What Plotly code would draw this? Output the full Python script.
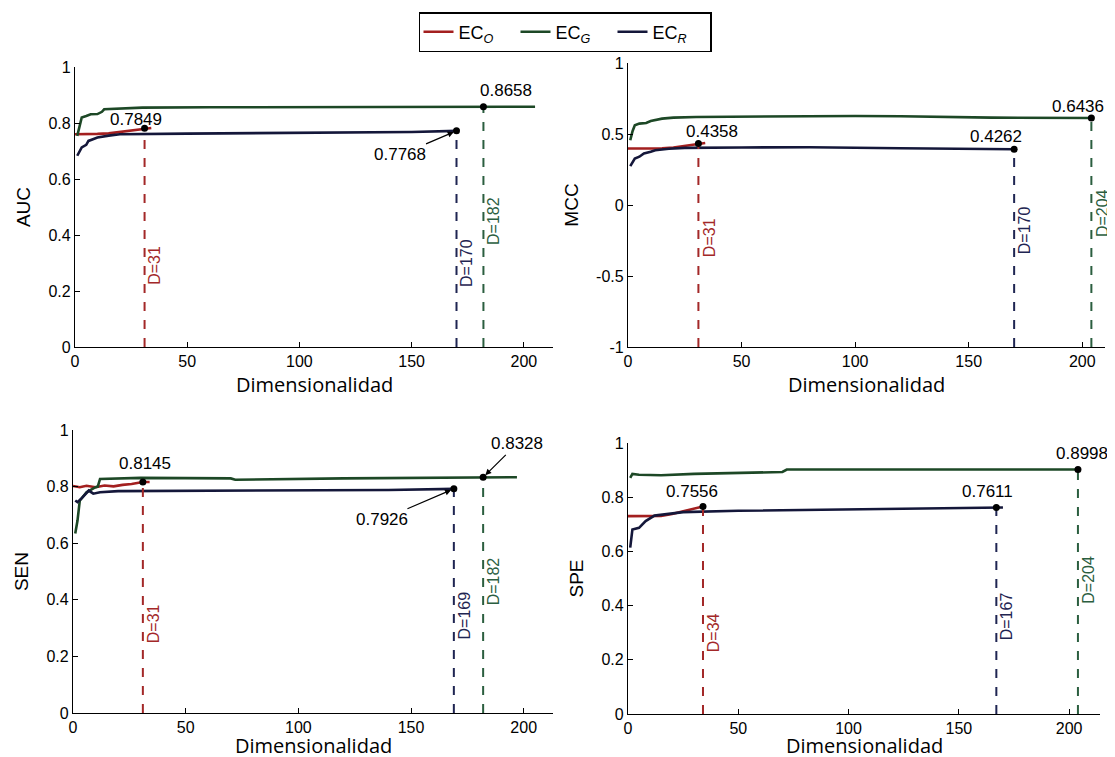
import plotly.graph_objects as go

# ---------------- data ----------------
# AUC
auc_o_x = [0, 5, 10, 15, 20, 25, 31, 34]
auc_o_y = [0.760, 0.760, 0.761, 0.763, 0.768, 0.775, 0.781, 0.782]
auc_g_x = [1, 2, 3, 5, 7, 10, 12, 13, 20, 30, 60, 100, 150, 182, 205]
auc_g_y = [0.754, 0.790, 0.820, 0.825, 0.831, 0.832, 0.840, 0.849, 0.852, 0.855, 0.856, 0.857, 0.858, 0.858, 0.858]
auc_r_x = [1, 2, 3, 5, 6, 8, 10, 15, 20, 50, 100, 150, 170]
auc_r_y = [0.683, 0.700, 0.713, 0.722, 0.736, 0.742, 0.748, 0.755, 0.760, 0.762, 0.764, 0.768, 0.772]

# MCC
mcc_o_x = [0, 5, 10, 15, 20, 25, 31, 34]
mcc_o_y = [0.398, 0.398, 0.398, 0.399, 0.405, 0.418, 0.433, 0.437]
mcc_g_x = [1, 2, 3, 5, 8, 10, 15, 20, 30, 50, 70, 75, 100, 120, 160, 204]
mcc_g_y = [0.456, 0.520, 0.561, 0.573, 0.578, 0.592, 0.608, 0.615, 0.620, 0.622, 0.624, 0.629, 0.627, 0.625, 0.615, 0.613]
mcc_r_x = [1, 2, 3, 5, 7, 10, 12, 18, 25, 50, 80, 120, 170]
mcc_r_y = [0.274, 0.300, 0.327, 0.340, 0.363, 0.375, 0.386, 0.396, 0.402, 0.405, 0.407, 0.400, 0.393]

# SEN
sen_o_x = [0, 3, 6, 10, 14, 18, 22, 26, 31, 34]
sen_o_y = [0.802, 0.798, 0.803, 0.798, 0.804, 0.801, 0.806, 0.809, 0.816, 0.816]
sen_g_x = [1, 2, 3, 6, 10, 11, 12, 30, 70, 72, 120, 182, 197]
sen_g_y = [0.634, 0.680, 0.750, 0.780, 0.798, 0.800, 0.827, 0.831, 0.829, 0.824, 0.829, 0.833, 0.833]
sen_r_x = [1, 2, 4, 5, 7, 9, 12, 20, 50, 100, 140, 169]
sen_r_y = [0.751, 0.745, 0.760, 0.769, 0.786, 0.775, 0.780, 0.784, 0.785, 0.786, 0.788, 0.792]

# SPE
spe_o_x = [0, 5, 10, 15, 20, 25, 30, 34]
spe_o_y = [0.730, 0.730, 0.730, 0.731, 0.738, 0.748, 0.757, 0.766]
spe_g_x = [1, 2, 5, 15, 30, 50, 70, 72, 120, 204]
spe_g_y = [0.871, 0.886, 0.883, 0.881, 0.886, 0.890, 0.893, 0.902, 0.902, 0.902]
spe_r_x = [1, 2, 5, 8, 12, 25, 50, 100, 140, 167, 170]
spe_r_y = [0.614, 0.681, 0.687, 0.712, 0.732, 0.745, 0.750, 0.755, 0.759, 0.762, 0.762]

# Optimal dimensionalities and reported values  [EC_O, EC_G, EC_R]
auc_best_d = [31, 182, 170]
auc_best_v = ["0.7849", "0.8658", "0.7768"]
mcc_best_d = [31, 204, 170]
mcc_best_v = ["0.4358", "0.6436", "0.4262"]
sen_best_d = [31, 182, 169]
sen_best_v = ["0.8145", "0.8328", "0.7926"]
spe_best_d = [34, 204, 167]
spe_best_v = ["0.7556", "0.8998", "0.7611"]

series_names = ["EC<sub><i>O</i></sub>", "EC<sub><i>G</i></sub>", "EC<sub><i>R</i></sub>"]
x_ticks = [0, 50, 100, 150, 200]
x_title = "Dimensionalidad"

# ---------------- styling ----------------
line_colors = ["#a31f1f", "#1d4826", "#14173a"]
dash_colors = ["#a32828", "#2b5e3f", "#1f2552"]
OFF = 8                      # page body margin of the html page
W, H = 1115 - OFF, 757
FONT = "Liberation Sans, Arial, sans-serif"

panels = [
    dict(name="AUC", data=[(auc_o_x, auc_o_y), (auc_g_x, auc_g_y), (auc_r_x, auc_r_y)],
         best_d=auc_best_d, best_v=auc_best_v, yr=[0, 1], yt=[0, 0.2, 0.4, 0.6, 0.8, 1],
         ytl=["0", "0.2", "0.4", "0.6", "0.8", "1"], xr=[0, 213],
         box=(75, 553, 67, 347), xtitle_y=384,
         labels=[(27, 0.814, None), (192, 0.917, None), (145, 0.686, "arrow")],
         dlab=[0.29, 0.45, 0.30]),
    dict(name="MCC", data=[(mcc_o_x, mcc_o_y), (mcc_g_x, mcc_g_y), (mcc_r_x, mcc_r_y)],
         best_d=mcc_best_d, best_v=mcc_best_v, yr=[-1, 1], yt=[-1, -0.5, 0, 0.5, 1],
         ytl=["-1", "-0.5", "0", "0.5", "1"], xr=[0, 210],
         box=(628, 1105, 63, 347), xtitle_y=384,
         labels=[(37, 0.52, None), (198, 0.695, None), (162, 0.484, None)],
         dlab=[-0.227, -0.058, -0.18]),
    dict(name="SEN", data=[(sen_o_x, sen_o_y), (sen_g_x, sen_g_y), (sen_r_x, sen_r_y)],
         best_d=sen_best_d, best_v=sen_best_v, yr=[0, 1], yt=[0, 0.2, 0.4, 0.6, 0.8, 1],
         ytl=["0", "0.2", "0.4", "0.6", "0.8", "1"], xr=[0, 213],
         box=(73, 553, 430, 713), xtitle_y=745,
         labels=[(32, 0.883, None), (197, 0.951, "arrow"), (137, 0.683, "arrow")],
         dlab=[0.315, 0.464, 0.346]),
    dict(name="SPE", data=[(spe_o_x, spe_o_y), (spe_g_x, spe_g_y), (spe_r_x, spe_r_y)],
         best_d=spe_best_d, best_v=spe_best_v, yr=[0, 1], yt=[0, 0.2, 0.4, 0.6, 0.8, 1],
         ytl=["0", "0.2", "0.4", "0.6", "0.8", "1"], xr=[0, 214],
         box=(628, 1100, 443, 714), xtitle_y=745,
         labels=[(29, 0.822, None), (206, 0.96, None), (163, 0.822, None)],
         dlab=[0.30, 0.497, 0.36]),
]

fig = go.Figure()
annotations = []
tick_font = dict(family=FONT, size=16, color="black")

for i, p in enumerate(panels):
    n = "" if i == 0 else str(i + 1)
    xa, ya = "x" + n, "y" + n
    l, r, t, b = p["box"]
    fig.layout["xaxis" + n] = dict(
        domain=[(l - OFF) / W, (r - OFF) / W], range=p["xr"], anchor=ya, tickvals=x_ticks,
        ticks="inside", ticklen=5, tickcolor="black", showline=True, linecolor="black",
        linewidth=1.2, showgrid=False, zeroline=False, tickfont=tick_font, automargin=False,
    )
    fig.layout["yaxis" + n] = dict(
        domain=[1 - (b - OFF) / H, 1 - (t - OFF) / H], range=p["yr"], anchor=xa,
        tickvals=p["yt"], ticktext=p["ytl"], ticks="inside", ticklen=5, tickcolor="black",
        showline=True, linecolor="black", linewidth=1.2, showgrid=False, zeroline=False,
        tickfont=tick_font, automargin=False,
        title=dict(text=p["name"], standoff=12, font=dict(family=FONT, size=19, color="black")),
    )
    annotations.append(dict(
        x=((l + r) / 2 - OFF) / W, y=1 - (p["xtitle_y"] - OFF) / H, xref="paper", yref="paper",
        text=x_title, showarrow=False, xanchor="center", yanchor="middle",
        font=dict(family="Open Sans, sans-serif", size=20, color="black"),
    ))
    ybot = p["yr"][0]
    for k, (sx, sy) in enumerate(p["data"]):
        fig.add_trace(go.Scatter(
            x=sx, y=sy, mode="lines", xaxis=xa, yaxis=ya,
            line=dict(color=line_colors[k], width=2.6),
            name=series_names[k], showlegend=(i == 0), legendgroup=str(k),
        ))
    for k, (sx, sy) in enumerate(p["data"]):
        d = p["best_d"][k]
        yv = sy[sx.index(d)] if d in sx else sy[-1]
        fig.add_trace(go.Scatter(
            x=[d, d], y=[ybot, yv], mode="lines", xaxis=xa, yaxis=ya,
            line=dict(color=dash_colors[k], width=2, dash="dash"),
            showlegend=False, hoverinfo="skip", cliponaxis=False,
        ))
        fig.add_trace(go.Scatter(
            x=[d], y=[yv], mode="markers", xaxis=xa, yaxis=ya,
            marker=dict(color="black", size=7), showlegend=False, cliponaxis=False,
        ))
        annotations.append(dict(
            x=d, y=p["dlab"][k], xref=xa, yref=ya, text="D=" + str(d), textangle=-90,
            showarrow=False, xanchor="left", xshift=0,
            font=dict(family=FONT, size=16, color=dash_colors[k]),
        ))
        lx, ly, kind = p["labels"][k]
        if kind == "arrow":
            annotations.append(dict(
                x=d, y=yv, xref=xa, yref=ya, ax=lx, ay=ly, axref=xa, ayref=ya,
                text=p["best_v"][k], showarrow=True, arrowhead=2, arrowsize=1,
                arrowwidth=1.2, arrowcolor="black", standoff=3,
                font=dict(family=FONT, size=17, color="black"),
            ))
        else:
            annotations.append(dict(
                x=lx, y=ly, xref=xa, yref=ya, text=p["best_v"][k], showarrow=False,
                font=dict(family=FONT, size=17, color="black"),
            ))

fig.update_layout(
    width=W, height=H, autosize=False,
    margin=dict(l=0, r=0, t=0, b=0, autoexpand=False),
    paper_bgcolor="white", plot_bgcolor="white",
    annotations=annotations,
    legend=dict(
        orientation="h", x=(565 - OFF) / W, y=1 - (12 - OFF) / H, xanchor="center", yanchor="top",
        bordercolor="black", borderwidth=1.5, bgcolor="white",
        font=dict(family=FONT, size=18, color="black"),
        itemwidth=30, entrywidth=52,
    ),
)

fig.write_html("out.html")
